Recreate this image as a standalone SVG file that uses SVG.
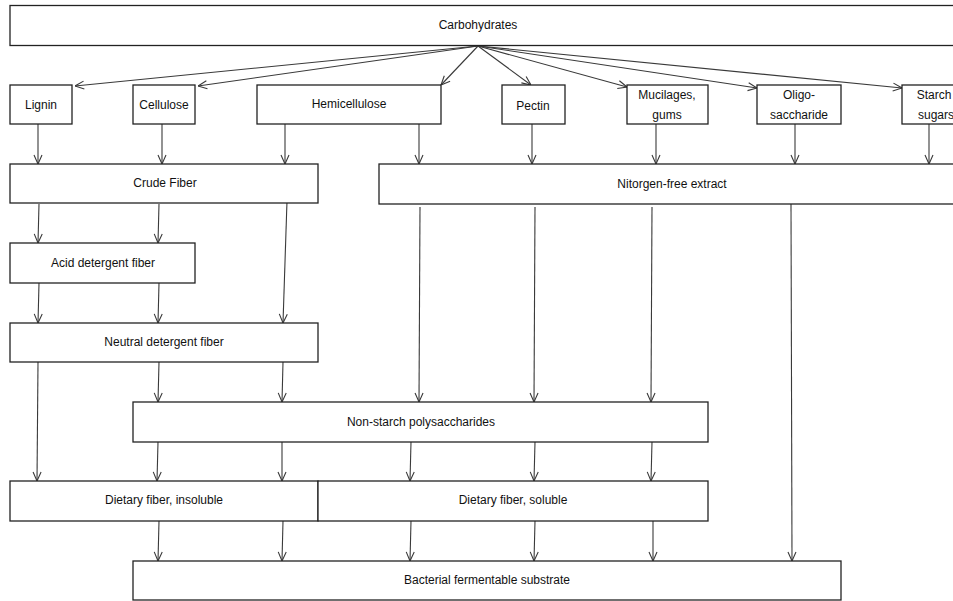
<svg xmlns="http://www.w3.org/2000/svg" width="953" height="601" viewBox="0 0 953 601">
<style>
.box{fill:#fff;stroke:#222;stroke-width:1.3}
.lbl{font-family:"Liberation Sans",Arial,sans-serif;font-size:12px;fill:#111;text-anchor:middle;dominant-baseline:central}
.c{stroke:#3a3a3a;stroke-width:1.1;fill:none;marker-end:url(#ah)}
</style>
<defs>
<marker id="ah" viewBox="0 0 10 10" refX="10" refY="5" markerWidth="10" markerHeight="10" markerUnits="userSpaceOnUse" orient="auto">
<path d="M1,1 L10,5 L1,9" fill="none" stroke="#3a3a3a" stroke-width="1.1"/>
</marker>
</defs>
<rect width="953" height="601" fill="#fff"/>
<g id="connectors">
<line class="c" x1="478" y1="46" x2="75" y2="86"/>
<line class="c" x1="478" y1="46" x2="198" y2="86"/>
<line class="c" x1="478" y1="46" x2="441" y2="85"/>
<line class="c" x1="478" y1="46" x2="531" y2="85"/>
<line class="c" x1="478" y1="46" x2="627" y2="87"/>
<line class="c" x1="478" y1="46" x2="757" y2="88"/>
<line class="c" x1="478" y1="46" x2="902" y2="88"/>
<line class="c" x1="38" y1="124" x2="38" y2="164"/>
<line class="c" x1="162" y1="124" x2="162" y2="164"/>
<line class="c" x1="285" y1="124" x2="285" y2="164"/>
<line class="c" x1="419" y1="124" x2="419" y2="164"/>
<line class="c" x1="532" y1="124" x2="532" y2="164"/>
<line class="c" x1="656" y1="124" x2="656" y2="164"/>
<line class="c" x1="795" y1="124" x2="795" y2="164"/>
<line class="c" x1="929" y1="124" x2="929" y2="164"/>
<line class="c" x1="39" y1="204" x2="38" y2="243"/>
<line class="c" x1="159" y1="204" x2="158" y2="243"/>
<line class="c" x1="287" y1="201" x2="283" y2="323"/>
<line class="c" x1="39" y1="283" x2="38" y2="323"/>
<line class="c" x1="159" y1="283" x2="158" y2="323"/>
<line class="c" x1="38" y1="362" x2="37" y2="481"/>
<line class="c" x1="159" y1="362" x2="158" y2="402"/>
<line class="c" x1="283" y1="362" x2="282" y2="402"/>
<line class="c" x1="420" y1="207" x2="419" y2="402"/>
<line class="c" x1="535" y1="207" x2="534" y2="402"/>
<line class="c" x1="652" y1="207" x2="651" y2="402"/>
<line class="c" x1="791" y1="204" x2="792" y2="561"/>
<line class="c" x1="158" y1="442" x2="157" y2="481"/>
<line class="c" x1="282" y1="442" x2="282" y2="481"/>
<line class="c" x1="411" y1="442" x2="410" y2="481"/>
<line class="c" x1="535" y1="442" x2="534" y2="481"/>
<line class="c" x1="652" y1="442" x2="651" y2="481"/>
<line class="c" x1="159" y1="521" x2="158" y2="561"/>
<line class="c" x1="283" y1="521" x2="282" y2="561"/>
<line class="c" x1="411" y1="521" x2="410" y2="561"/>
<line class="c" x1="535" y1="521" x2="534" y2="561"/>
<line class="c" x1="653" y1="521" x2="653" y2="561"/>
</g>
<g id="carbohydrates"><rect class="box" x="10" y="5.5" width="960" height="40"/><text class="lbl" x="478" y="25">Carbohydrates</text></g>
<g id="lignin"><rect class="box" x="10" y="85" width="62" height="39"/><text class="lbl" x="41" y="105">Lignin</text></g>
<g id="cellulose"><rect class="box" x="133" y="85" width="62" height="39"/><text class="lbl" x="164" y="105">Cellulose</text></g>
<g id="hemicellulose"><rect class="box" x="257" y="85" width="184" height="39"/><text class="lbl" x="349" y="104">Hemicellulose</text></g>
<g id="pectin"><rect class="box" x="502" y="85" width="63" height="39"/><text class="lbl" x="533" y="106">Pectin</text></g>
<g id="mucilages"><rect class="box" x="627" y="85" width="81" height="39"/><text class="lbl" x="667" y="95">Mucilages,</text><text class="lbl" x="667" y="115">gums</text></g>
<g id="oligosaccharide"><rect class="box" x="757" y="85" width="84" height="39"/><text class="lbl" x="799" y="95">Oligo-</text><text class="lbl" x="799" y="115">saccharide</text></g>
<g id="starch"><rect class="box" x="902" y="85" width="70" height="39"/><text class="lbl" x="934" y="95">Starch</text><text class="lbl" x="936" y="115">sugars</text></g>
<g id="crude-fiber"><rect class="box" x="10" y="164" width="308" height="39"/><text class="lbl" x="165" y="183">Crude Fiber</text></g>
<g id="nfe"><rect class="box" x="379" y="164" width="590" height="40"/><text class="lbl" x="672" y="184">Nitorgen-free extract</text></g>
<g id="adf"><rect class="box" x="10" y="243" width="185" height="40"/><text class="lbl" x="103" y="263">Acid detergent fiber</text></g>
<g id="ndf"><rect class="box" x="10" y="323" width="308" height="39"/><text class="lbl" x="164" y="342">Neutral detergent fiber</text></g>
<g id="nsp"><rect class="box" x="133" y="402" width="575" height="40"/><text class="lbl" x="421" y="422">Non-starch polysaccharides</text></g>
<g id="df-insoluble"><rect class="box" x="10" y="481" width="308" height="40"/><text class="lbl" x="164" y="500">Dietary fiber, insoluble</text></g>
<g id="df-soluble"><rect class="box" x="318" y="481" width="390" height="40"/><text class="lbl" x="513" y="500">Dietary fiber, soluble</text></g>
<g id="bfs"><rect class="box" x="133" y="561" width="708" height="39"/><text class="lbl" x="487" y="580">Bacterial fermentable substrate</text></g>
</svg>
